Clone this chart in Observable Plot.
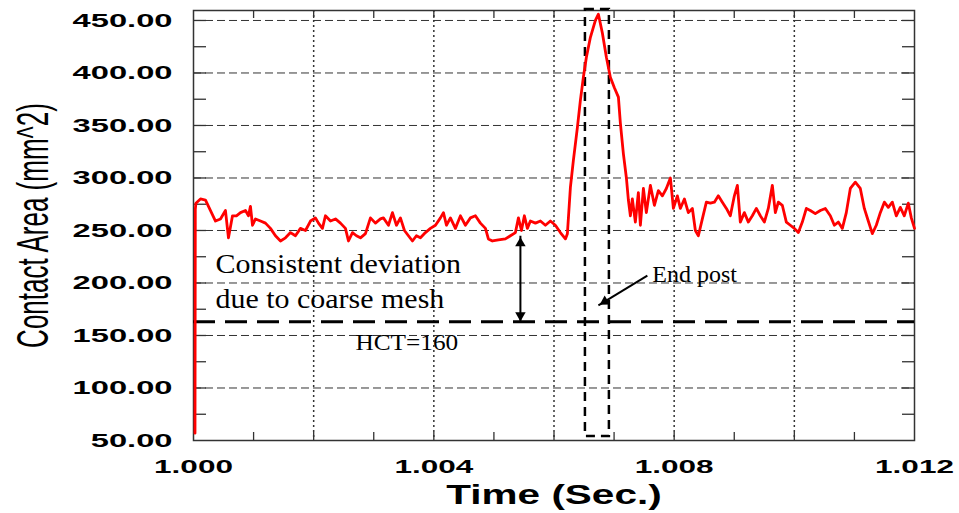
<!DOCTYPE html>
<html><head><meta charset="utf-8">
<script src="https://cdn.jsdelivr.net/npm/d3@7"></script>
<script src="https://cdn.jsdelivr.net/npm/@observablehq/plot@0.6"></script>
<style>html,body{margin:0;padding:0;background:#fff;} svg{display:block}</style>
</head><body><div id="chart"></div>
<script>
// ---- data ----
const times = [
1.000025,1.000030,1.000040,1.000116,1.000200,1.000283,1.000366,1.000449,1.000532,1.000582,
1.000649,1.000715,1.000782,1.000865,1.000915,1.000948,1.000982,1.001032,1.001115,1.001198,
1.001281,1.001364,1.001448,1.001531,1.001614,1.001697,1.001780,1.001864,1.001947,1.002030,
1.002080,1.002146,1.002196,1.002280,1.002363,1.002446,1.002529,1.002579,1.002646,1.002712,
1.002779,1.002862,1.002945,1.003028,1.003111,1.003161,1.003245,1.003311,1.003378,1.003444,
1.003511,1.003577,1.003644,1.003710,1.003777,1.003860,1.003943,1.004027,1.004110,1.004160,
1.004210,1.004276,1.004359,1.004443,1.004526,1.004609,1.004692,1.004775,1.004859,1.004908,
1.004975,1.005075,1.005191,1.005275,1.005358,1.005408,1.005458,1.005507,1.005557,1.005607,
1.005691,1.005774,1.005857,1.005940,1.006023,1.006106,1.006190,1.006223,1.006273,1.006323,
1.006389,1.006439,1.006489,1.006539,1.006606,1.006689,1.006739,1.006805,1.006872,1.006938,
1.007005,1.007072,1.007105,1.007155,1.007205,1.007238,1.007271,1.007304,1.007354,1.007404,
1.007438,1.007488,1.007537,1.007604,1.007671,1.007737,1.007804,1.007870,1.007937,1.007987,
1.008053,1.008103,1.008170,1.008236,1.008303,1.008353,1.008403,1.008469,1.008536,1.008602,
1.008669,1.008735,1.008802,1.008869,1.008935,1.009002,1.009052,1.009101,1.009168,1.009235,
1.009301,1.009368,1.009434,1.009501,1.009567,1.009634,1.009684,1.009734,1.009800,1.009867,
1.009933,1.010000,1.010067,1.010133,1.010200,1.010266,1.010349,1.010433,1.010516,1.010599,
1.010666,1.010732,1.010799,1.010865,1.010932,1.011015,1.011098,1.011165,1.011231,1.011298,
1.011364,1.011431,1.011498,1.011564,1.011631,1.011697,1.011764,1.011830,1.011897,1.011947,
1.012000
];
const contactArea = [
57,270,276,280,279,269,259,261,269,243,
264,264,267,269,264,273,255,261,259,257,
252,245,240,243,248,245,252,250,259,262,
257,252,264,259,261,257,252,240,248,245,
243,247,262,257,261,262,255,267,255,262,
250,245,240,245,243,248,252,255,262,267,
255,262,252,264,255,262,264,257,252,242,
240,241,242,245,248,262,250,264,252,259,
257,259,255,259,255,248,242,247,291,317,
348,374,396,415,434,450,456,438,415,396,
386,377,352,323,300,279,264,280,258,286,
255,290,267,293,274,288,283,290,300,271,
283,271,280,267,271,250,245,261,277,276,
277,283,277,271,264,283,293,258,267,258,
264,271,264,258,271,293,267,277,274,258,
255,252,248,258,271,269,266,269,271,264,
255,258,252,267,290,296,290,271,259,247,
255,267,277,272,277,264,272,264,276,262,
252
];

const yTicks = [50,100,150,200,250,300,350,400,450];
const yTickLabels = ["50.00","100.00","150.00","200.00","250.00","300.00","350.00","400.00","450.00"];
const xTicks = [1.000,1.004,1.008,1.012];
const xTickLabels = ["1.000","1.004","1.008","1.012"];
const yGrid = [100,150,200,250,300,350,400,450];
const xGrid = [1.002,1.004,1.006,1.008,1.010];
const yMinor = [75,100,125,150,175,200,225,250,275,300,325,350,375,400,425,450];
const xMinor = [1.001,1.002,1.003,1.004,1.005,1.006,1.007,1.008,1.009,1.010,1.011];
const xTitle = "Time (Sec.)";
const yTitle = "Contact Area (mm^2)";

const hctLevel = [163];
const endPostBoxX1 = [1.006523], endPostBoxX2 = [1.006922];
const endPostBoxY1 = [53.8], endPostBoxY2 = [460.5];

const noteText = ["Consistent deviation","due to coarse mesh"];
const noteT = [1.000366,1.000366];
const noteV = [217.5,184.5];
const hctLabel = "HCT=160", hctLabelT = 1.002696, hctLabelV = 143;
const endLabel = "End post", endLabelT = 1.007637, endLabelV = 208;

const devArrowT = 1.005441, devArrowTop = 245, devArrowBottom = 162;
const endArrowFromT = 1.007554, endArrowFromV = 207, endArrowToT = 1.006739, endArrowToV = 178.6;

// ---- build tables ----
const series = times.map((t,i)=>({t, v: contactArea[i]}));
const box = endPostBoxX1.map((x1,i)=>({x1, x2:endPostBoxX2[i], y1:endPostBoxY1[i], y2:endPostBoxY2[i]}));
const notes = noteText.map((s,i)=>({s, t:noteT[i], v:noteV[i]}));
const shafts = [
  {x1:devArrowT,y1:devArrowTop,x2:devArrowT,y2:devArrowBottom},
  {x1:endArrowFromT,y1:endArrowFromV,x2:endArrowToT,y2:endArrowToV}
];

const sans = "'Liberation Sans', Arial, sans-serif";
const serif = "'Liberation Serif', 'Times New Roman', serif";
const innerW = 959-193-45, innerH = 513-10-73;

const chart = Plot.plot({
  width: 959, height: 513,
  marginLeft: 193, marginRight: 45, marginTop: 10, marginBottom: 73,
  x: {domain: [1, 1.012], axis: null},
  y: {domain: [50, 459.5], axis: null},
  style: {background: "#fff", overflow: "visible"},
  marks: [
    Plot.ruleY(yGrid, {stroke: "#333", strokeWidth: 1, strokeDasharray: "8,4"}),
    Plot.ruleX(xGrid, {stroke: "#333", strokeWidth: 1.5, strokeDasharray: "2,3"}),
    Plot.tickY(yMinor, {y: d=>d, insetRight: innerW-13, stroke: "#333", strokeWidth: 1.3}),
    Plot.tickY(yMinor, {y: d=>d, insetLeft: innerW-12, stroke: "#333", strokeWidth: 1.3}),
    Plot.tickX(xMinor, {x: d=>d, insetTop: innerH-8, stroke: "#333", strokeWidth: 1.3}),
    Plot.tickX(xMinor, {x: d=>d, insetBottom: innerH-8, stroke: "#333", strokeWidth: 1.3}),
    Plot.frame({stroke: "#333", strokeWidth: 1.5}),
    Plot.ruleY(hctLevel, {y: d=>d, stroke: "#000", strokeWidth: 3, strokeDasharray: "22,10"}),
    Plot.rect(box, {x1:"x1", x2:"x2", y1:"y1", y2:"y2", fill: "none", stroke: "#000", strokeWidth: 2.5, strokeDasharray: "9,6"}),
    Plot.line(series, {x: "t", y: "v", stroke: "#ff0000", strokeWidth: 2.8}),
    Plot.text(notes, {x: "t", y: "v", text: "s", textAnchor: "start", fontFamily: serif, fontSize: 27.5, fill: "#000", ariaDescription: "notes"}),
    Plot.text([hctLabel], {x: ()=>hctLabelT, y: ()=>hctLabelV, text: d=>d, textAnchor: "start", fontFamily: serif, fontSize: 23, fill: "#000", ariaDescription: "hct"}),
    Plot.text([endLabel], {x: ()=>endLabelT, y: ()=>endLabelV, text: d=>d, textAnchor: "start", fontFamily: serif, fontSize: 24, fill: "#000"}),
    Plot.link(shafts, {x1:"x1", y1:"y1", x2:"x2", y2:"y2", stroke: "#000", strokeWidth: 2}),
    Plot.dot([devArrowTop], {x: ()=>devArrowT, y: d=>d, symbol: "triangle2", r: 5, fill: "#000", stroke: "none", dy: 7.5}),
    Plot.dot([devArrowBottom], {x: ()=>devArrowT, y: d=>d, symbol: "triangle2", r: 5, fill: "#000", stroke: "none", rotate: 180, dy: -7.5}),
    Plot.dot([endArrowToV], {x: ()=>endArrowToT, y: d=>d, symbol: "triangle2", r: 5, fill: "#000", stroke: "none", rotate: 238.5, dx: 6.4, dy: -3.9}),
    Plot.text(yTicks, {y: d=>d, frameAnchor: "left", dx: -21, text: (d,i)=>yTickLabels[i], textAnchor: "end", lineAnchor: "middle", fontFamily: sans, fontWeight: "bold", fontSize: 19, fill: "#000", ariaDescription: "ytl"}),
    Plot.text(xTicks, {x: d=>d, frameAnchor: "bottom", dy: 26, text: (d,i)=>xTickLabels[i], textAnchor: "middle", lineAnchor: "middle", fontFamily: sans, fontWeight: "bold", fontSize: 19, fill: "#000", ariaDescription: "xtl"}),
    Plot.text([xTitle], {frameAnchor: "bottom", dy: 55, text: d=>d, textAnchor: "middle", lineAnchor: "middle", fontFamily: sans, fontWeight: "bold", fontSize: 27, fill: "#000", ariaDescription: "xtitle"}),
    Plot.text([yTitle], {frameAnchor: "left", dx: -160, rotate: -90, text: d=>d, textAnchor: "middle", lineAnchor: "middle", fontFamily: sans, fontSize: 26, fill: "#000", ariaDescription: "ytitle"})
  ]
});
document.getElementById("chart").appendChild(chart);

// horizontal stretch of the labels, as in the reference picture
function stretch(desc, sx, sy){
  chart.querySelectorAll(`g[aria-description="${desc}"] text`).forEach(t=>{
    const tr = t.getAttribute("transform") || "";
    t.setAttribute("transform", `${tr} scale(${sx},${sy})`);
  });
}
stretch("ytl", 1.72, 1);
stretch("xtl", 1.66, 1);
stretch("xtitle", 1.5, 1);
stretch("ytitle", 1, 1.7);
stretch("notes", 1.09, 1);
stretch("hct", 1.1, 1);
</script></body></html>
